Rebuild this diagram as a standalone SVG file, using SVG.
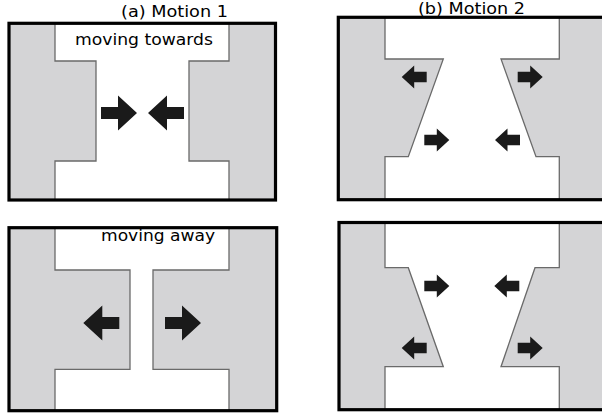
<svg xmlns="http://www.w3.org/2000/svg" width="602" height="414" viewBox="0 0 602 414">
<style>
.bg{fill:#ffffff}
.wall{fill:#d4d4d6;stroke:#6a6a6a;stroke-width:1.3;stroke-linejoin:miter}
.frame{fill:none;stroke:#000;stroke-width:3.2}
.arrow{fill:#1a1a1a}
.lbl{font-family:"DejaVu Sans","Open Sans",sans-serif;font-size:16px;fill:#000}
</style>
<defs>
<path id="bigArrow" d="M-36,-6 H-19 V-17.5 L0,0 L-19,17.5 V6 H-36 Z"/>
<path id="smallArrow" d="M-25,-5.3 H-12.5 V-11.5 L0,0 L-12.5,11.5 V5.3 H-25 Z"/>
</defs>
<rect class="bg" x="0" y="0" width="602" height="414"/>

<g id="panel-a">
<polygon class="wall" points="9,23.3 55,23.3 55,61 96,61 96,161 55,161 55,200 9,200"/>
<polygon class="wall" points="275.5,23.3 229,23.3 229,61 189,61 189,161 229,161 229,200 275.5,200"/>
<rect class="frame" x="9" y="23.3" width="266.5" height="176.7"/>
<text class="lbl" x="121" y="17" textLength="107" lengthAdjust="spacingAndGlyphs">(a) Motion 1</text>
<text class="lbl" x="75" y="45" textLength="138" lengthAdjust="spacingAndGlyphs">moving towards</text>
<g id="a-arrows">
<use href="#bigArrow" class="arrow" transform="translate(137,113)"/>
<use href="#bigArrow" class="arrow" transform="translate(148,113) scale(-1,1)"/>
</g>
</g>

<g id="panel-b">
<polygon class="wall" points="338.3,17.3 385,17.3 385,59 443.3,59 408.3,156.7 385,156.7 385,199.7 338.3,199.7"/>
<polygon class="wall" points="606,17.3 559.3,17.3 559.3,59 501,59 536,156.7 559.3,156.7 559.3,199.7 606,199.7"/>
<rect class="frame" x="338.3" y="17.3" width="270" height="182.4"/>
<text class="lbl" x="418" y="13.5" textLength="107" lengthAdjust="spacingAndGlyphs">(b) Motion 2</text>
<g id="b-arrows">
<use href="#smallArrow" class="arrow" transform="translate(401.7,77) scale(-1,1)"/>
<use href="#smallArrow" class="arrow" transform="translate(542.7,77)"/>
<use href="#smallArrow" class="arrow" transform="translate(449.3,140)"/>
<use href="#smallArrow" class="arrow" transform="translate(495,140) scale(-1,1)"/>
</g>
</g>

<g id="panel-c">
<polygon class="wall" points="9,227.7 55,227.7 55,270 130,270 130,369.3 55,369.3 55,410.7 9,410.7"/>
<polygon class="wall" points="276.7,227.7 229,227.7 229,270 153,270 153,369.3 229,369.3 229,410.7 276.7,410.7"/>
<rect class="frame" x="9" y="227.7" width="267.7" height="183"/>
<text class="lbl" x="101" y="240.5" textLength="114" lengthAdjust="spacingAndGlyphs">moving away</text>
<g id="c-arrows">
<use href="#bigArrow" class="arrow" transform="translate(83.3,323) scale(-1,1)"/>
<use href="#bigArrow" class="arrow" transform="translate(201,323)"/>
</g>
</g>

<g id="panel-d">
<polygon class="wall" points="339,222.5 385,222.5 385,267.7 408.3,267.7 443.3,366.7 385,366.7 385,409.7 339,409.7"/>
<polygon class="wall" points="606,222.5 559.3,222.5 559.3,267.7 535,267.7 501,366.7 559.3,366.7 559.3,409.7 606,409.7"/>
<rect class="frame" x="339" y="222.5" width="270" height="187.2"/>
<g id="d-arrows">
<use href="#smallArrow" class="arrow" transform="translate(449.3,286)"/>
<use href="#smallArrow" class="arrow" transform="translate(494.3,286) scale(-1,1)"/>
<use href="#smallArrow" class="arrow" transform="translate(401.7,348) scale(-1,1)"/>
<use href="#smallArrow" class="arrow" transform="translate(542.7,348)"/>
</g>
</g>
</svg>
